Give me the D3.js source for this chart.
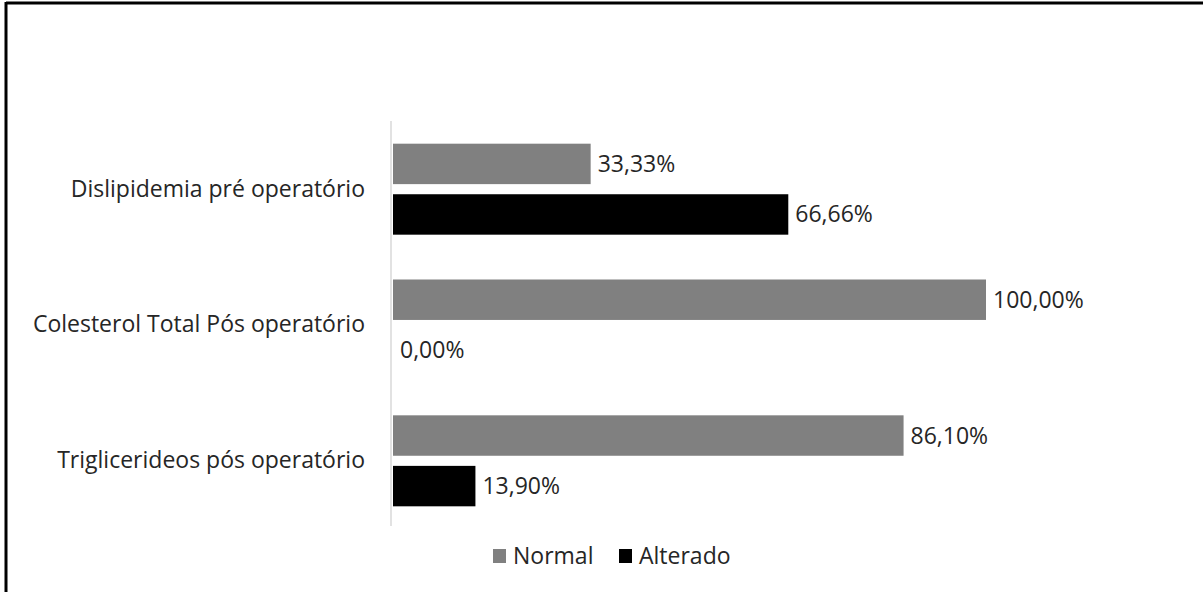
<!DOCTYPE html>
<html><head><meta charset="utf-8">
<script src="https://cdn.jsdelivr.net/npm/d3@7"></script>
<style>body{margin:0;background:#fff;} text{font-family:"Open Sans",sans-serif;}</style>
</head><body>
<svg id="c" width="1203" height="592"></svg>
<script>
const categories = ["Dislipidemia pré operatório", "Colesterol Total Pós operatório", "Triglicerideos pós operatório"];
const seriesNames = ["Normal", "Alterado"];
const normalValues = [33.33, 100.00, 86.10];
const alteradoValues = [66.66, 0.00, 13.90];
const colors = ["#808080", "#000000"];

const svg = d3.select("#c");
const fmt = v => v.toFixed(2).replace(".", ",") + "%";
const FS = 23;

// frame (top and left edges)
svg.append("line").attr("x1",6).attr("x2",1203).attr("y1",3).attr("y2",3).attr("stroke","#000").attr("stroke-width",3);
svg.append("line").attr("x1",6).attr("x2",6).attr("y1",2).attr("y2",592).attr("stroke","#000").attr("stroke-width",3);

const x = d3.scaleLinear().domain([0,100]).range([393,986]);
const y = d3.scaleBand().domain(categories).range([121,529]).paddingInner(0.33).paddingOuter(0.167);
const yi = d3.scaleBand().domain(seriesNames).range([0,y.bandwidth()]).paddingInner(0.2);

const data = categories.map((c,i)=>({cat:c, vals:[{s:"Normal",v:normalValues[i]},{s:"Alterado",v:alteradoValues[i]}]}));

const g = svg.append("g").selectAll("g").data(data).join("g").attr("transform",d=>`translate(0,${y(d.cat)})`);
g.selectAll("rect").data(d=>d.vals).join("rect")
  .attr("x",x(0)).attr("y",d=>yi(d.s)).attr("height",yi.bandwidth())
  .attr("width",d=>x(d.v)-x(0)).attr("fill",(d,i)=>colors[i]);
g.selectAll("text.v").data(d=>d.vals).join("text").attr("class","v")
  .attr("x",d=>x(d.v)+7).attr("y",d=>yi(d.s)+yi.bandwidth()/2).attr("dy","0.35em")
  .attr("font-size",FS).attr("fill","#262626").text(d=>fmt(d.v));

// y axis
const ya = svg.append("g").attr("transform",`translate(391,0)`).call(d3.axisLeft(y).tickSize(0).tickPadding(26));
ya.select(".domain").attr("stroke","#d9d9d9").attr("stroke-width",1.5).attr("d","M0,121V526");
ya.selectAll("text").attr("font-size",FS).attr("fill","#262626").attr("font-family","Open Sans");

// legend
const leg = svg.append("g").attr("transform","translate(0,556)");
const lx = [493, 619];
seriesNames.forEach((s,i)=>{
  leg.append("rect").attr("x",lx[i]).attr("y",-7).attr("width",13).attr("height",14).attr("fill",colors[i]);
  leg.append("text").attr("x",lx[i]+20).attr("y",0).attr("dy","0.35em").attr("font-size",FS).attr("fill","#262626").text(s);
});
</script>
</body></html>
